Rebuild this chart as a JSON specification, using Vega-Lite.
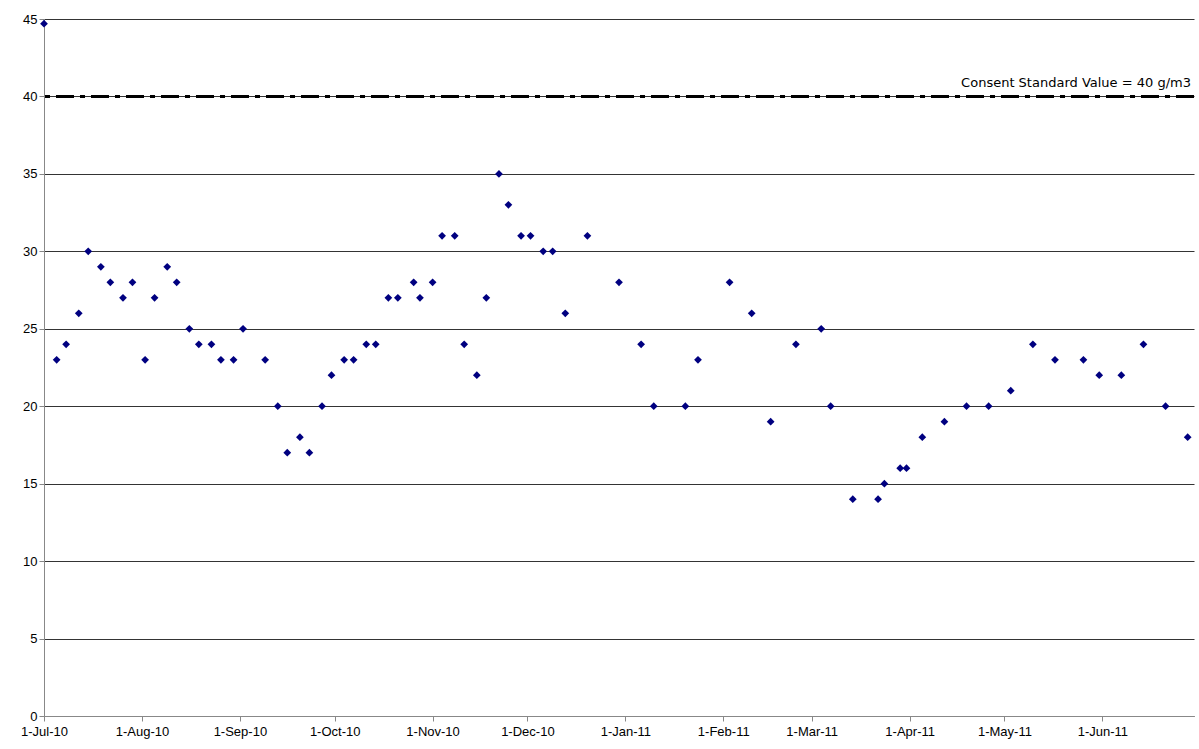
{
  "$schema": "https://vega.github.io/schema/vega-lite/v6.json",
  "width": 1199,
  "height": 749,
  "autosize": {"type": "fit", "contains": "padding"},
  "padding": {"left": 20, "top": 13, "right": 3, "bottom": 11},
  "background": "white",
  "config": {"view": {"stroke": null}, "font": "Liberation Sans"},
  "data": {"values": [
    {"date": "2010-07-01", "v": 44.7},
    {"date": "2010-07-05", "v": 23},
    {"date": "2010-07-08", "v": 24},
    {"date": "2010-07-12", "v": 26},
    {"date": "2010-07-15", "v": 30},
    {"date": "2010-07-19", "v": 29},
    {"date": "2010-07-22", "v": 28},
    {"date": "2010-07-26", "v": 27},
    {"date": "2010-07-29", "v": 28},
    {"date": "2010-08-02", "v": 23},
    {"date": "2010-08-05", "v": 27},
    {"date": "2010-08-09", "v": 29},
    {"date": "2010-08-12", "v": 28},
    {"date": "2010-08-16", "v": 25},
    {"date": "2010-08-19", "v": 24},
    {"date": "2010-08-23", "v": 24},
    {"date": "2010-08-26", "v": 23},
    {"date": "2010-08-30", "v": 23},
    {"date": "2010-09-02", "v": 25},
    {"date": "2010-09-09", "v": 23},
    {"date": "2010-09-13", "v": 20},
    {"date": "2010-09-16", "v": 17},
    {"date": "2010-09-20", "v": 18},
    {"date": "2010-09-23", "v": 17},
    {"date": "2010-09-27", "v": 20},
    {"date": "2010-09-30", "v": 22},
    {"date": "2010-10-04", "v": 23},
    {"date": "2010-10-07", "v": 23},
    {"date": "2010-10-11", "v": 24},
    {"date": "2010-10-14", "v": 24},
    {"date": "2010-10-18", "v": 27},
    {"date": "2010-10-21", "v": 27},
    {"date": "2010-10-26", "v": 28},
    {"date": "2010-10-28", "v": 27},
    {"date": "2010-11-01", "v": 28},
    {"date": "2010-11-04", "v": 31},
    {"date": "2010-11-08", "v": 31},
    {"date": "2010-11-11", "v": 24},
    {"date": "2010-11-15", "v": 22},
    {"date": "2010-11-18", "v": 27},
    {"date": "2010-11-22", "v": 35},
    {"date": "2010-11-25", "v": 33},
    {"date": "2010-11-29", "v": 31},
    {"date": "2010-12-02", "v": 31},
    {"date": "2010-12-06", "v": 30},
    {"date": "2010-12-09", "v": 30},
    {"date": "2010-12-13", "v": 26},
    {"date": "2010-12-20", "v": 31},
    {"date": "2010-12-30", "v": 28},
    {"date": "2011-01-06", "v": 24},
    {"date": "2011-01-10", "v": 20},
    {"date": "2011-01-20", "v": 20},
    {"date": "2011-01-24", "v": 23},
    {"date": "2011-02-03", "v": 28},
    {"date": "2011-02-10", "v": 26},
    {"date": "2011-02-16", "v": 19},
    {"date": "2011-02-24", "v": 24},
    {"date": "2011-03-04", "v": 25},
    {"date": "2011-03-07", "v": 20},
    {"date": "2011-03-14", "v": 14},
    {"date": "2011-03-22", "v": 14},
    {"date": "2011-03-24", "v": 15},
    {"date": "2011-03-29", "v": 16},
    {"date": "2011-03-31", "v": 16},
    {"date": "2011-04-05", "v": 18},
    {"date": "2011-04-12", "v": 19},
    {"date": "2011-04-19", "v": 20},
    {"date": "2011-04-26", "v": 20},
    {"date": "2011-05-03", "v": 21},
    {"date": "2011-05-10", "v": 24},
    {"date": "2011-05-17", "v": 23},
    {"date": "2011-05-26", "v": 23},
    {"date": "2011-05-31", "v": 22},
    {"date": "2011-06-07", "v": 22},
    {"date": "2011-06-14", "v": 24},
    {"date": "2011-06-21", "v": 20},
    {"date": "2011-06-28", "v": 18}
  ]},
  "layer": [
    {
      "mark": {"type": "point", "shape": "diamond", "filled": true, "color": "#000080", "size": 60, "opacity": 1},
      "encoding": {
        "x": {"field": "date", "type": "temporal", "timeUnit": "utcyearmonthdate",
          "scale": {"type": "utc", "domain": ["2010-07-01", "2011-06-30"], "nice": false},
          "axis": {"title": null, "grid": false, "values": ["2010-07-01","2010-08-01","2010-09-01","2010-10-01","2010-11-01","2010-12-01","2011-01-01","2011-02-01","2011-03-01","2011-04-01","2011-05-01","2011-06-01"],
            "labelExpr": "utcFormat(datum.value, '%-d-%b-%y')", "labelFontSize": 13, "labelColor": "black",
            "domainColor": "#888", "tickColor": "#888", "labelPadding": 4, "labelFlush": false}},
        "y": {"field": "v", "type": "quantitative",
          "scale": {"domain": [0, 45], "nice": false},
          "axis": {"title": null, "values": [0,5,10,15,20,25,30,35,40,45], "labelFontSize": 13, "labelColor": "black",
            "gridColor": "black", "gridWidth": 0.8, "domainColor": "#888", "tickColor": "#888"}}
      }
    },
    {
      "data": {"values": [{"y": 40}]},
      "mark": {"type": "rule", "color": "black", "strokeWidth": 3, "strokeDash": [18, 6, 5, 6]},
      "encoding": {"y": {"field": "y", "type": "quantitative"}}
    },
    {
      "data": {"values": [{"y": 40, "label": "Consent Standard Value = 40 g/m3"}]},
      "mark": {"type": "text", "align": "right", "baseline": "bottom", "dy": -6, "fontSize": 13, "font": "DejaVu Sans", "x": "width", "dx": -3},
      "encoding": {"y": {"field": "y", "type": "quantitative"}, "text": {"field": "label"}}
    }
  ]
}
